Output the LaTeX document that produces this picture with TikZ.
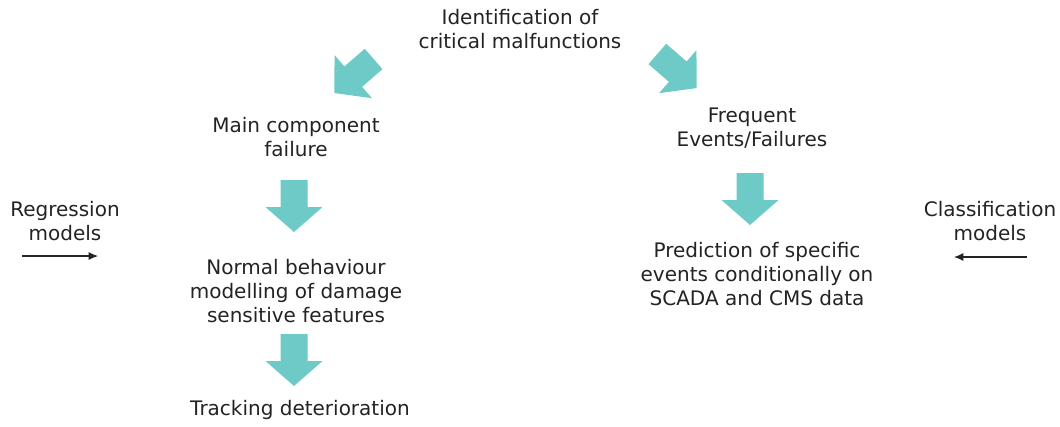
\documentclass[tikz,border=0pt]{standalone}
\usepackage{fontspec}
\setmainfont{DejaVu Sans}
\usetikzlibrary{arrows.meta}
\definecolor{teal1}{RGB}{110,202,198}
\definecolor{txt}{RGB}{35,35,35}
\begin{document}
\begin{tikzpicture}[x=0.75pt,y=-0.75pt,
  lbl/.style={align=center,text=txt,font=\fontsize{15}{18}\selectfont,inner sep=0pt},
  thin arrow/.style={-{Latex[length=7pt,width=6pt]},line width=0.8pt,draw=txt},
  blockarrow/.pic={\fill[teal1] (-13.5,-26)--(13.5,-26)--(13.5,1)--(28.5,1)--(0,26)--(-28.5,1)--(-13.5,1)--cycle;}]
\useasboundingbox (0,0) rectangle (1060,426);
\node[lbl] (top) at (520,29) {Identification of\\critical malfunctions};
\node[lbl] (main) at (296,137) {Main component\\failure};
\node[lbl] (nbm) at (296,291) {Normal behaviour\\modelling of damage\\sensitive features};
\node[lbl] (track) at (300,410) {Tracking deterioration};
\node[lbl] (freq) at (752,128) {Frequent\\Events/Failures};
\node[lbl] (pred) at (757,274) {Prediction of specific\\events conditionally on\\SCADA and CMS data};
\node[lbl] (reg) at (65,221) {Regression\\models};
\node[lbl] (cls) at (990,221) {Classification\\models};
\coordinate (r1) at (22,256);
\coordinate (r2) at (98,256);
\coordinate (c1) at (1027,257);
\coordinate (c2) at (954,257);
\draw[thin arrow] (r1) -- (r2);
\draw[thin arrow] (c1) -- (c2);
\pic[rotate=-49] at (354,76) {blockarrow};
\pic[rotate=49] at (677,71) {blockarrow};
\pic at (294,206) {blockarrow};
\pic at (294,360) {blockarrow};
\pic at (750,199) {blockarrow};
\end{tikzpicture}
\end{document}
